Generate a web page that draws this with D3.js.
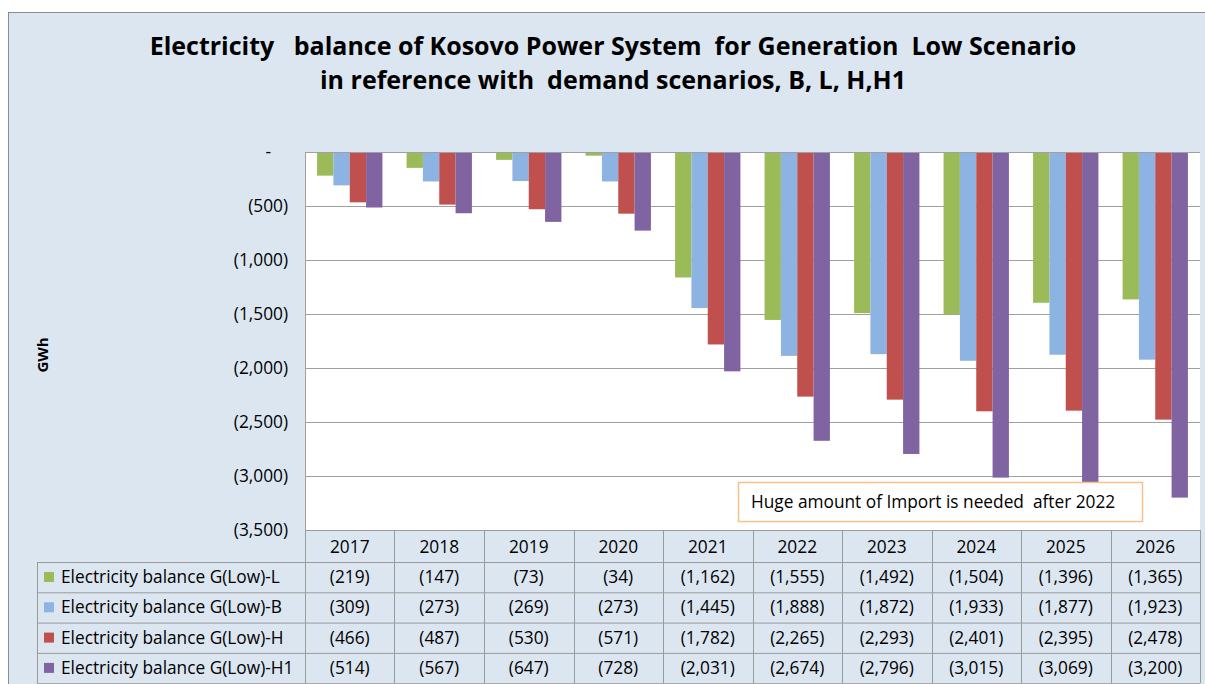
<!DOCTYPE html>
<html>
<head>
<meta charset="utf-8">
<script src="https://cdn.jsdelivr.net/npm/d3@7"></script>
<style>
  body { margin: 0; background: #fff; }
  svg { display: block; font-family: "Open Sans", "Noto Sans", sans-serif; }
</style>
</head>
<body>
<svg id="vis" width="1205" height="684"></svg>
<script>
const years = ['2017','2018','2019','2020','2021','2022','2023','2024','2025','2026'];
const seriesNames = ['Electricity balance G(Low)-L','Electricity balance G(Low)-B','Electricity balance G(Low)-H','Electricity balance G(Low)-H1'];
const valuesL = [-219, -147, -73, -34, -1162, -1555, -1492, -1504, -1396, -1365];
const valuesB = [-309, -273, -269, -273, -1445, -1888, -1872, -1933, -1877, -1923];
const valuesH = [-466, -487, -530, -571, -1782, -2265, -2293, -2401, -2395, -2478];
const valuesH1 = [-514, -567, -647, -728, -2031, -2674, -2796, -3015, -3069, -3200];
const seriesColors = ['#9bbb59', '#8db3e2', '#c0504d', '#8064a2'];
const yTicks = [0, -500, -1000, -1500, -2000, -2500, -3000, -3500];
const titleLines = ['Electricity   balance of Kosovo Power System  for Generation  Low Scenario', 'in reference with  demand scenarios, B, L, H,H1'];
const note = 'Huge amount of Import is needed  after 2022';

const series = [valuesL, valuesB, valuesH, valuesH1];
const plot = {left: 305, right: 1200, top: 152, bottom: 530};
const rowH = 30.3;
const legendLeft = 37;
const bg = '#dce6f1';
const gridColor = '#a0a0a0';
const fs = 17.3;

const svg = d3.select('#vis');
const fmt = v => v === 0 ? '-' : '(' + d3.format(',')(Math.abs(v)) + ')';

// chart frame
svg.append('rect').attr('x', 8.5).attr('y', 12.5).attr('width', 1210).attr('height', 690)
  .attr('fill', bg).attr('stroke', '#8c8c8c').attr('stroke-width', 1);

// title
svg.append('text').attr('x', 613).attr('y', 55).attr('text-anchor', 'middle')
  .attr('font-size', 25).attr('font-weight', 'bold').attr('fill', '#000')
  .style('white-space', 'pre')
  .selectAll('tspan').data(titleLines).join('tspan')
  .attr('x', 613).attr('dy', (d, i) => i === 0 ? 0 : 34).text(d => d);

const x = d3.scaleBand().domain(years).range([plot.left, plot.right]).paddingInner(0.27).paddingOuter(0.135);
const xs = d3.scaleBand().domain(d3.range(4)).range([0, x.bandwidth()]);
const y = d3.scaleLinear().domain([0, -3500]).range([plot.top, plot.bottom]);

// plot area
svg.append('rect').attr('x', plot.left).attr('y', plot.top)
  .attr('width', plot.right - plot.left).attr('height', plot.bottom - plot.top).attr('fill', '#fff');

// gridlines
const grid = d3.axisLeft(y).tickValues(yTicks.slice(1, -1)).tickSize(-(plot.right - plot.left)).tickFormat('');
svg.append('g').attr('transform', `translate(${plot.left},0)`).call(grid)
  .call(g => g.select('.domain').remove())
  .call(g => g.selectAll('line').attr('stroke', gridColor).attr('stroke-width', 1));

// bars
const groups = svg.append('g').selectAll('g').data(years).join('g')
  .attr('transform', d => `translate(${x(d)},0)`);
groups.selectAll('rect').data((d, i) => series.map((s, k) => ({k, v: s[i]}))).join('rect')
  .attr('x', d => xs(d.k)).attr('width', xs.bandwidth())
  .attr('y', y(0)).attr('height', d => y(d.v) - y(0))
  .attr('fill', d => seriesColors[d.k]);

// axis lines
svg.append('line').attr('x1', plot.left).attr('x2', plot.right).attr('y1', plot.top + 0.5).attr('y2', plot.top + 0.5)
  .attr('stroke', gridColor);
svg.append('line').attr('x1', plot.left + 0.5).attr('x2', plot.left + 0.5).attr('y1', plot.top).attr('y2', plot.bottom)
  .attr('stroke', gridColor);

// y labels
const yAxis = d3.axisLeft(y).tickValues(yTicks).tickSize(0).tickPadding(17).tickFormat(fmt);
svg.append('g').attr('transform', `translate(${plot.left},0)`).call(yAxis)
  .call(g => g.select('.domain').remove())
  .call(g => g.selectAll('text').attr('font-size', fs).attr('fill', '#000').attr('font-family', '"Open Sans", sans-serif')
    .attr('dx', d => d === 0 ? -17 : 0).attr('dy', '0.32em'));

svg.append('text').attr('transform', 'translate(48,355) rotate(-90)').attr('text-anchor', 'middle')
  .attr('font-size', 15).attr('font-weight', 'bold').text('GWh');

// note box
svg.append('rect').attr('x', 738.5).attr('y', 482.5).attr('width', 404).attr('height', 39)
  .attr('fill', '#fff').attr('stroke', '#f9c08c').attr('stroke-width', 1.5);
svg.append('text').attr('x', 751).attr('y', 508).attr('font-size', fs).attr('fill', '#000')
  .style('white-space', 'pre').text(note);

// data table
const table = svg.append('g');
const headerTop = plot.bottom;
const headerH = 32;
table.selectAll('text.year').data(years).join('text').attr('class', 'year')
  .attr('x', d => x(d) + x.bandwidth() / 2).attr('y', headerTop + 23)
  .attr('text-anchor', 'middle').attr('font-size', fs).text(d => d);

const rowTop = i => headerTop + headerH + i * rowH;
seriesNames.forEach((name, k) => {
  const ry = rowTop(k);
  table.append('rect').attr('x', legendLeft + 7).attr('y', ry + 10).attr('width', 10).attr('height', 10)
    .attr('fill', seriesColors[k]);
  table.append('text').attr('x', legendLeft + 24).attr('y', ry + 21).attr('font-size', fs).text(name);
  table.selectAll(null).data(years).join('text')
    .attr('x', d => x(d) + x.bandwidth() / 2).attr('y', ry + 21)
    .attr('text-anchor', 'middle').attr('font-size', fs)
    .text((d, i) => fmt(series[k][i]));
});

// table lines
const bottom = rowTop(4);
const lineColor = '#9a9a9a';
const colEdges = [plot.left].concat(years.map(d => x(d) + x.bandwidth() + x.step() * x.paddingInner() / 2));
colEdges[colEdges.length - 1] = plot.right;
table.append('line').attr('x1', plot.left).attr('x2', plot.right).attr('y1', headerTop + 0.5).attr('y2', headerTop + 0.5).attr('stroke', lineColor);
d3.range(5).forEach(i => {
  table.append('line').attr('x1', legendLeft).attr('x2', plot.right)
    .attr('y1', rowTop(i) + 0.5).attr('y2', rowTop(i) + 0.5).attr('stroke', lineColor);
});
colEdges.forEach(cx => {
  table.append('line').attr('x1', Math.round(cx) + 0.5).attr('x2', Math.round(cx) + 0.5)
    .attr('y1', headerTop).attr('y2', bottom).attr('stroke', lineColor);
});
table.append('line').attr('x1', legendLeft + 0.5).attr('x2', legendLeft + 0.5)
  .attr('y1', rowTop(0)).attr('y2', bottom).attr('stroke', lineColor);
</script>
</body>
</html>
